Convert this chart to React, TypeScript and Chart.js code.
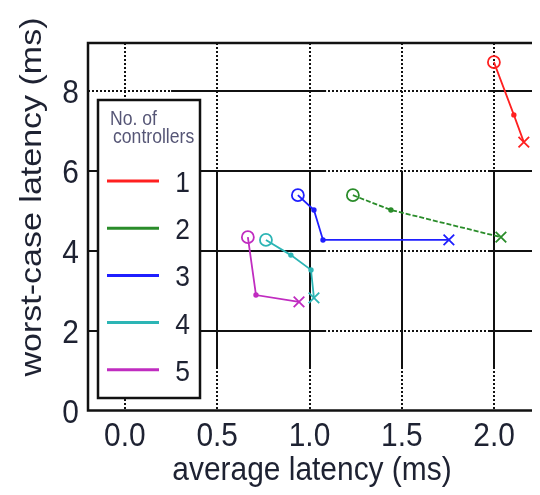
import React, { useEffect, useRef } from "react";
import { Chart, registerables } from "chart.js";

Chart.register(...registerables);

// ---- data ----
const seriesLabels = ["1", "2", "3", "4", "5"];
const seriesColors = ["#ff2020", "#2a8c2a", "#1f1fff", "#2cb5b5", "#c02cc0"];

const ctrl1X = [1.999, 2.107, 2.161];
const ctrl1Y = [8.72, 7.4, 6.72];
const ctrl2X = [1.235, 1.441, 2.037];
const ctrl2Y = [5.39, 5.02, 4.34];
const ctrl3X = [0.937, 1.024, 1.073, 1.755];
const ctrl3Y = [5.39, 5.02, 4.27, 4.27];
const ctrl4X = [0.764, 0.899, 1.008, 1.024];
const ctrl4Y = [4.27, 3.89, 3.52, 2.82];
const ctrl5X = [0.666, 0.71, 0.943];
const ctrl5Y = [4.34, 2.89, 2.72];

const xTickValues = [0, 0.5, 1, 1.5, 2, 2.5];
const yTickValues = [0, 2, 4, 6, 8];
const xTitle = "average latency (ms)";
const yTitle = "worst-case latency (ms)";
const legendTitle = ["No. of", "controllers"];

// grid decoration (data units)
const dottedGridX = [0, 0.5, 1, 1.5, 2];
const dottedGridY = [2, 4, 6, 8];
const solidGridH = [
  [8, 0.25, 1.09], [8, 1.97, 2.5],
  [6, -0.2, 1.09], [6, 1.97, 2.5],
  [4, -0.2, 1.09], [4, 1.97, 2.5],
  [2, -0.2, 1.09], [2, 1.97, 2.5],
];
const solidGridV = [
  [0.5, 1.06, 6], [1, 1.06, 6], [1.5, 1.06, 6], [2, 1.06, 6],
];

const FONT = '"Liberation Sans", Arial, sans-serif';
const SX = 0.88;
const TEXT_COLOR = "#1e2232";

function drawText(ctx: CanvasRenderingContext2D, text: string, x: number, y: number, size: number, color: string, align: CanvasTextAlign) {
  ctx.save();
  ctx.translate(x, y);
  ctx.scale(SX, 1);
  ctx.font = `${size}px ${FONT}`;
  ctx.fillStyle = color;
  ctx.textAlign = align;
  ctx.textBaseline = "alphabetic";
  ctx.fillText(text, 0, 0);
  ctx.restore();
}

function markerStyles(n: number, color: string) {
  const style: string[] = [];
  const radius: number[] = [];
  const bg: string[] = [];
  for (let i = 0; i < n; i++) {
    if (i === 0) { style.push("circle"); radius.push(6); bg.push("rgba(0,0,0,0)"); }
    else if (i === n - 1) { style.push("crossRot"); radius.push(7.5); bg.push(color); }
    else { style.push("circle"); radius.push(1.8); bg.push(color); }
  }
  return { pointStyle: style, pointRadius: radius, pointBackgroundColor: bg };
}

const gnuplotPlugin = {
  id: "gnuplotDecor",
  beforeDatasetsDraw(chart: any) {
    const { ctx, chartArea } = chart;
    const xs = chart.scales.x;
    const ys = chart.scales.y;
    ctx.save();
    ctx.beginPath();
    ctx.rect(chartArea.left, chartArea.top, chartArea.right - chartArea.left, chartArea.bottom - chartArea.top);
    ctx.clip();
    ctx.strokeStyle = "#111";
    ctx.lineWidth = 2;
    ctx.setLineDash([2, 2]);
    dottedGridX.forEach((v) => {
      const px = Math.round(xs.getPixelForValue(v));
      ctx.beginPath();
      ctx.moveTo(px, chartArea.top);
      ctx.lineTo(px, chartArea.bottom);
      ctx.stroke();
    });
    dottedGridY.forEach((v) => {
      const py = Math.round(ys.getPixelForValue(v));
      ctx.beginPath();
      ctx.moveTo(chartArea.left, py);
      ctx.lineTo(chartArea.right, py);
      ctx.stroke();
    });
    ctx.setLineDash([]);
    solidGridH.forEach(([y, x0, x1]) => {
      const py = Math.round(ys.getPixelForValue(y));
      ctx.beginPath();
      ctx.moveTo(xs.getPixelForValue(x0), py);
      ctx.lineTo(xs.getPixelForValue(x1), py);
      ctx.stroke();
    });
    solidGridV.forEach(([x, y0, y1]) => {
      const px = Math.round(xs.getPixelForValue(x));
      ctx.beginPath();
      ctx.moveTo(px, ys.getPixelForValue(y0));
      ctx.lineTo(px, ys.getPixelForValue(y1));
      ctx.stroke();
    });
    ctx.restore();
  },
  afterDraw(chart: any) {
    const { ctx, chartArea } = chart;
    const xs = chart.scales.x;
    const ys = chart.scales.y;
    // frame
    ctx.save();
    ctx.strokeStyle = "#111";
    ctx.lineWidth = 2.5;
    ctx.strokeRect(chartArea.left, chartArea.top, chartArea.right - chartArea.left, chartArea.bottom - chartArea.top);
    ctx.restore();

    // tick labels
    xTickValues.forEach((v) => {
      drawText(ctx, v.toFixed(1), xs.getPixelForValue(v), chartArea.bottom + 35, 34, TEXT_COLOR, "center");
    });
    yTickValues.forEach((v) => {
      drawText(ctx, String(v), chartArea.left - 9, ys.getPixelForValue(v) + 12, 34, TEXT_COLOR, "right");
    });

    // axis titles
    drawText(ctx, xTitle, 304, 472, 34, TEXT_COLOR, "center");
    ctx.save();
    ctx.translate(33, 189);
    ctx.scale(SX, 1);
    ctx.rotate(-Math.PI / 2);
    ctx.font = `34px ${FONT}`;
    ctx.fillStyle = TEXT_COLOR;
    ctx.textAlign = "center";
    ctx.textBaseline = "alphabetic";
    ctx.fillText(yTitle, 0, 0);
    ctx.restore();

    // legend box
    const lx = chartArea.left + 10;
    const ly = chartArea.top + 57;
    const lw = 102;
    const lh = 298;
    ctx.save();
    ctx.fillStyle = "#fff";
    ctx.fillRect(lx, ly, lw, lh);
    ctx.strokeStyle = "#111";
    ctx.lineWidth = 2.5;
    ctx.strokeRect(lx, ly, lw, lh);
    ctx.restore();
    drawText(ctx, legendTitle[0], lx + 12, ly + 25, 20, "#565676", "left");
    drawText(ctx, legendTitle[1], lx + 15, ly + 43, 20, "#565676", "left");
    chart.data.datasets.forEach((ds: any, i: number) => {
      const yy = ly + 81 + i * 47.2;
      ctx.save();
      ctx.strokeStyle = ds.borderColor;
      ctx.lineWidth = 3;
      ctx.beginPath();
      ctx.moveTo(lx + 9, yy);
      ctx.lineTo(lx + 61, yy);
      ctx.stroke();
      ctx.restore();
      drawText(ctx, ds.label, lx + 92, yy + 11, 30, TEXT_COLOR, "right");
    });
  },
};

function makeDataset(label: string, color: string, xs: number[], ysArr: number[], dash: number[] = []) {
  return {
    label,
    data: xs.map((x, i) => ({ x, y: ysArr[i] })),
    showLine: true,
    borderColor: color,
    borderWidth: 1.8,
    borderDash: dash,
    pointBorderColor: color,
    pointBorderWidth: 1.8,
    ...markerStyles(xs.length, color),
  };
}

export default function App() {
  const canvasRef = useRef<HTMLCanvasElement | null>(null);

  useEffect(() => {
    if (!canvasRef.current) return;
    const chart = new Chart(canvasRef.current, {
      type: "scatter",
      data: {
        datasets: [
          makeDataset(seriesLabels[0], seriesColors[0], ctrl1X, ctrl1Y),
          makeDataset(seriesLabels[1], seriesColors[1], ctrl2X, ctrl2Y, [5, 2]),
          makeDataset(seriesLabels[2], seriesColors[2], ctrl3X, ctrl3Y),
          makeDataset(seriesLabels[3], seriesColors[3], ctrl4X, ctrl4Y),
          makeDataset(seriesLabels[4], seriesColors[4], ctrl5X, ctrl5Y),
        ] as any,
      },
      options: {
        animation: false,
        responsive: false,
        layout: { padding: { top: 35, right: 21.6, left: 0, bottom: 0 } },
        plugins: { legend: { display: false }, tooltip: { enabled: false } },
        scales: {
          x: {
            type: "linear",
            min: -0.2,
            max: 2.5,
            grid: { display: false },
            border: { display: false },
            ticks: { display: false },
            afterFit: (s: any) => { s.height = 77.5; },
          },
          y: {
            type: "linear",
            min: 0,
            max: 9.2,
            grid: { display: false },
            border: { display: false },
            ticks: { display: false },
            afterFit: (s: any) => { s.width = 80; },
          },
        },
      },
      plugins: [gnuplotPlugin],
    });
    return () => chart.destroy();
  }, []);

  return (
    <div style={{ width: 532, height: 480, overflow: "hidden" }}>
      <canvas ref={canvasRef} width={600} height={480} style={{ display: "block" }} />
    </div>
  );
}
